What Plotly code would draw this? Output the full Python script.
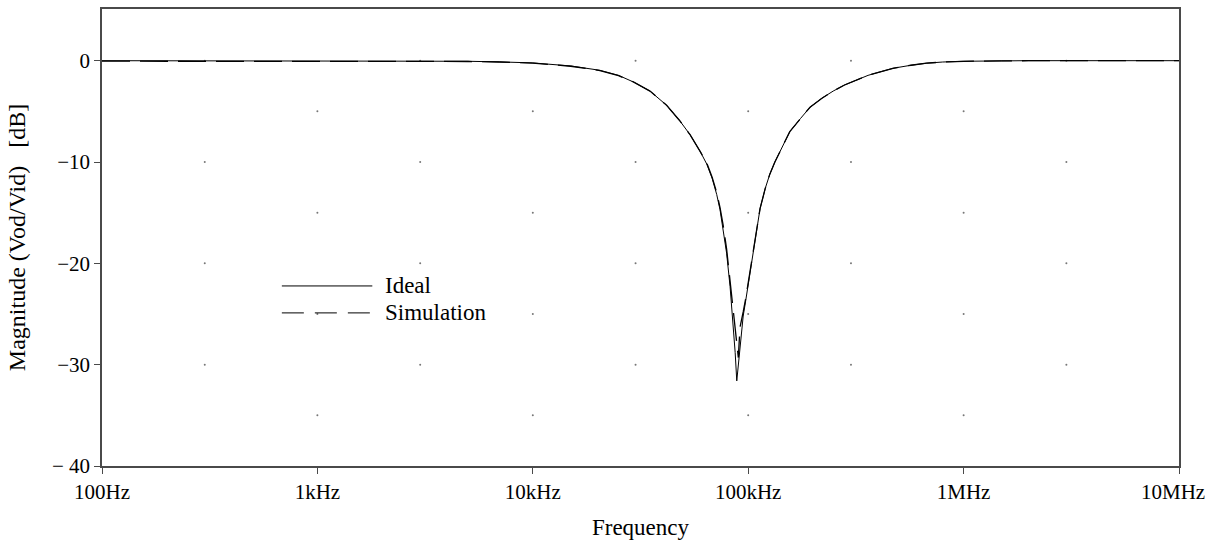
import plotly.graph_objects as go

# ---- data ----
ideal_freq = [100, 1000, 3000, 5000, 7000, 10000, 15000, 20500, 25000, 29300, 35000,
              41800, 48000, 53700, 60000, 64200, 68000, 71400, 74000, 76600, 79400,
              82400, 85400, 87000, 88500, 90500, 92500, 94800, 97500, 100000, 105600,
              111500, 113500, 120000, 126000, 133000, 140600, 148000, 156000, 175000,
              193600, 220000, 248000, 280000, 319000, 360000, 395000, 470000, 570000,
              673000, 800000, 1000000, 1500000, 2000000, 10000000]
ideal_db = [0, 0, -0.02, -0.06, -0.12, -0.22, -0.52, -0.95, -1.45, -2.1, -3.0,
            -4.4, -5.9, -7.3, -9.0, -10.2, -11.6, -13.2, -14.7, -16.6, -19.0,
            -22.3, -26.3, -28.8, -31.6, -29.4, -27.5, -25.2, -23.6, -22.1, -18.9,
            -15.8, -14.6, -12.6, -11.2, -10.0, -8.9, -8.0, -7.0, -5.7,
            -4.6, -3.7, -3.0, -2.4, -1.9, -1.45, -1.2, -0.75, -0.45,
            -0.25, -0.13, -0.06, -0.02, 0, 0]

sim_freq = [100, 1000, 3000, 5000, 7000, 10000, 15000, 20500, 25000, 29300, 35000,
            41800, 48000, 53700, 60000, 64200, 68000, 71400, 74000, 76600, 79400,
            82400, 85400, 86900, 88500, 90000, 91600, 93200, 94800, 97500, 100000, 105600,
            111500, 113500, 120000, 126000, 133000, 140600, 148000, 156000, 175000,
            193600, 220000, 248000, 280000, 319000, 360000, 395000, 470000, 570000,
            673000, 800000, 1000000, 1500000, 2000000, 10000000]
sim_db = [-0.05, -0.05, -0.06, -0.08, -0.13, -0.24, -0.55, -0.98, -1.48, -2.1, -3.0,
          -4.4, -5.9, -7.3, -9.0, -10.1, -11.5, -13.0, -14.5, -16.3, -18.6,
          -21.7, -25.0, -26.3, -28.0, -29.3, -26.3, -25.6, -24.8, -23.4, -22.0, -18.8,
          -15.8, -14.6, -12.6, -11.2, -10.0, -8.9, -8.0, -7.0, -5.7,
          -4.6, -3.7, -3.0, -2.4, -1.9, -1.45, -1.2, -0.75, -0.45,
          -0.25, -0.13, -0.06, -0.02, 0, 0]

x_tick_vals = [100, 1000, 10000, 100000, 1000000, 10000000]
x_tick_text = ["100Hz", "1kHz", "10kHz", "100kHz", "1MHz", "10MHz"]
y_tick_vals = [0, -10, -20, -30, -40]
y_tick_text = ["0", "\u221210", "\u221220", "\u221230", "\u2212 40"]

dot_freq_a = [300, 3000, 30000, 300000, 3000000]
dot_db_a = [0, -10, -20, -30]
dot_freq_b = [1000, 10000, 100000, 1000000]
dot_db_b = [-5, -15, -25, -35]

legend_names = ["Ideal", "Simulation"]

# ---- figure ----
FONT = "Liberation Serif, Times New Roman, serif"
FS = 23
TICK_FS = 21

dx, dy = [], []
for f in dot_freq_a:
    for d in dot_db_a:
        dx.append(f); dy.append(d)
for f in dot_freq_b:
    for d in dot_db_b:
        dx.append(f); dy.append(d)

fig = go.Figure()
fig.add_trace(go.Scatter(x=dx, y=dy, mode="markers",
                         marker=dict(size=2, color="#777777"),
                         showlegend=False, hoverinfo="skip"))
fig.add_trace(go.Scatter(x=ideal_freq, y=ideal_db, mode="lines", name=legend_names[0],
                         line=dict(color="black", width=1), showlegend=False))
fig.add_trace(go.Scatter(x=sim_freq, y=sim_db, mode="lines", name=legend_names[1],
                         line=dict(color="black", width=1.3, dash="28px,10px"),
                         showlegend=False))

# custom legend (long sample lines, as in the reference)
leg = [(legend_names[0], 0.394, "solid"), (legend_names[1], 0.335, "22px,11px")]
for name, yy, dash in leg:
    fig.add_shape(type="line", xref="paper", yref="paper",
                  x0=0.167, x1=0.251, y0=yy, y1=yy,
                  line=dict(color="black", width=1, dash=dash))
    fig.add_annotation(xref="paper", yref="paper", x=0.261, y=yy, text=name,
                       showarrow=False, xanchor="left", yanchor="middle",
                       font=dict(family=FONT, size=FS, color="black"))

# last x tick label is right-anchored so it stays inside the page
shown_tick_text = x_tick_text[:-1] + [""]
fig.add_annotation(xref="paper", yref="paper", x=1.0, y=0.0, xshift=27, yshift=-26,
                   text=x_tick_text[-1], showarrow=False, xanchor="right",
                   yanchor="middle", borderpad=0,
                   font=dict(family=FONT, size=TICK_FS, color="black"))

axis_common = dict(showline=True, linecolor="#4a4a4a", linewidth=1.5, mirror=True,
                   ticks="outside", ticklen=6, tickcolor="#4a4a4a",
                   showgrid=False, zeroline=False, ticklabeloverflow="allow",
                   automargin=False,
                   tickfont=dict(family=FONT, size=TICK_FS, color="black"))

fig.update_xaxes(type="log", range=[2, 7], tickvals=x_tick_vals, ticktext=shown_tick_text,
                 title=dict(text="Frequency", font=dict(family=FONT, size=FS, color="black"),
                            standoff=16),
                 **axis_common)
fig.update_yaxes(range=[-40, 5.1], tickvals=y_tick_vals, ticktext=y_tick_text,
                 title=dict(text="Magnitude (Vod/Vid)\u00a0\u00a0\u00a0[dB]",
                            font=dict(family=FONT, size=24, color="black"), standoff=20),
                 **axis_common)

fig.update_layout(width=1209, height=540, paper_bgcolor="white", plot_bgcolor="white",
                  margin=dict(l=102, r=30, t=9, b=74), showlegend=False,
                  font=dict(family=FONT, color="black"))

fig.write_html("out.html", config={"displayModeBar": False},
               post_script="document.body.style.margin='0';")
